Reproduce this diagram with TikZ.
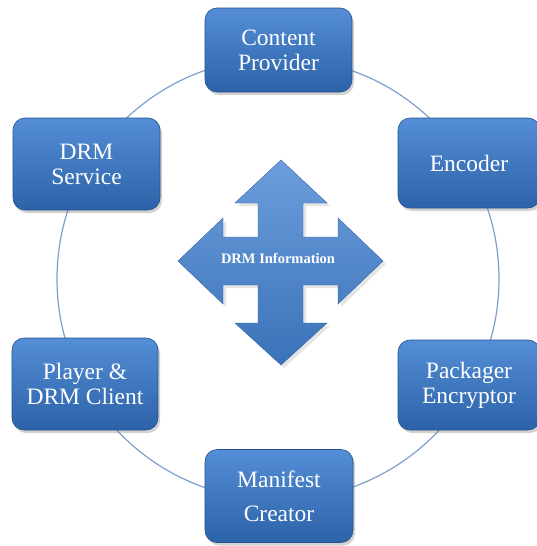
\documentclass[tikz,border=0pt]{standalone}
\usepackage{fontspec}
\setmainfont{Liberation Serif}
\usetikzlibrary{shadows}
\definecolor{boxtop}{RGB}{84,142,214}
\definecolor{boxbot}{RGB}{44,98,168}
\definecolor{boxline}{RGB}{36,82,142}
\definecolor{ringc}{RGB}{128,160,206}
\definecolor{arrowtop}{RGB}{108,158,220}
\definecolor{arrowbot}{RGB}{58,114,184}
\tikzset{
  blockbox/.style={rounded corners=12pt, top color=boxtop, bottom color=boxbot,
    draw=boxline, line width=0.6pt, text=white, align=center,
    font=\fontsize{23.5}{25}\selectfont, inner sep=0pt,
    drop shadow={opacity=0.35, shadow xshift=2pt, shadow yshift=-3pt}},
  ring/.style={draw=ringc, line width=1.2pt},
  bigarrow/.style={top color=arrowtop, bottom color=arrowbot, draw=arrowbot!90!black, line width=0.4pt,
    drop shadow={opacity=0.2, shadow xshift=3pt, shadow yshift=-3pt}},
  infolabel/.style={text=white, font=\bfseries\fontsize{14.5}{16}\selectfont}
}
\begin{document}
\begin{tikzpicture}[x=1pt,y=-1pt]
\useasboundingbox (0,0) rectangle (537,546);
\fill[white] (0,0) rectangle (537,546);
% ring
\draw[ring] (278,279) circle[radius=221];
% cross arrows
\path[bigarrow] (281,160) -- (327,203) -- (303,203) -- (303,237) -- (338,237) -- (338,218) -- (383,261)
  -- (338,304) -- (338,285) -- (303,285) -- (303,323) -- (327,323) -- (281,365) -- (235,323)
  -- (258,323) -- (258,285) -- (223,285) -- (223,304) -- (178,261) -- (223,218) -- (223,237)
  -- (258,237) -- (258,203) -- (235,203) -- cycle;
\node[infolabel] (info) at (278,258) {DRM Information};
% boxes
\node[blockbox, minimum width=147pt, minimum height=84pt] (cp) at (278.5,50) {Content\\Provider};
\node[blockbox, minimum width=142pt, minimum height=90pt] (enc) at (469,163) {Encoder};
\node[blockbox, minimum width=142pt, minimum height=90pt] (pe) at (469,385) {Packager\\Encryptor};
\node[blockbox, minimum width=148pt, minimum height=93pt] (mc) at (279,496) {Manifest\\[9pt]Creator};
\node[blockbox, minimum width=146pt, minimum height=92pt] (pc) at (85,384) {Player \&\\DRM Client};
\node[blockbox, minimum width=147pt, minimum height=92pt] (ds) at (86.5,164) {DRM\\Service};
\end{tikzpicture}
\end{document}
